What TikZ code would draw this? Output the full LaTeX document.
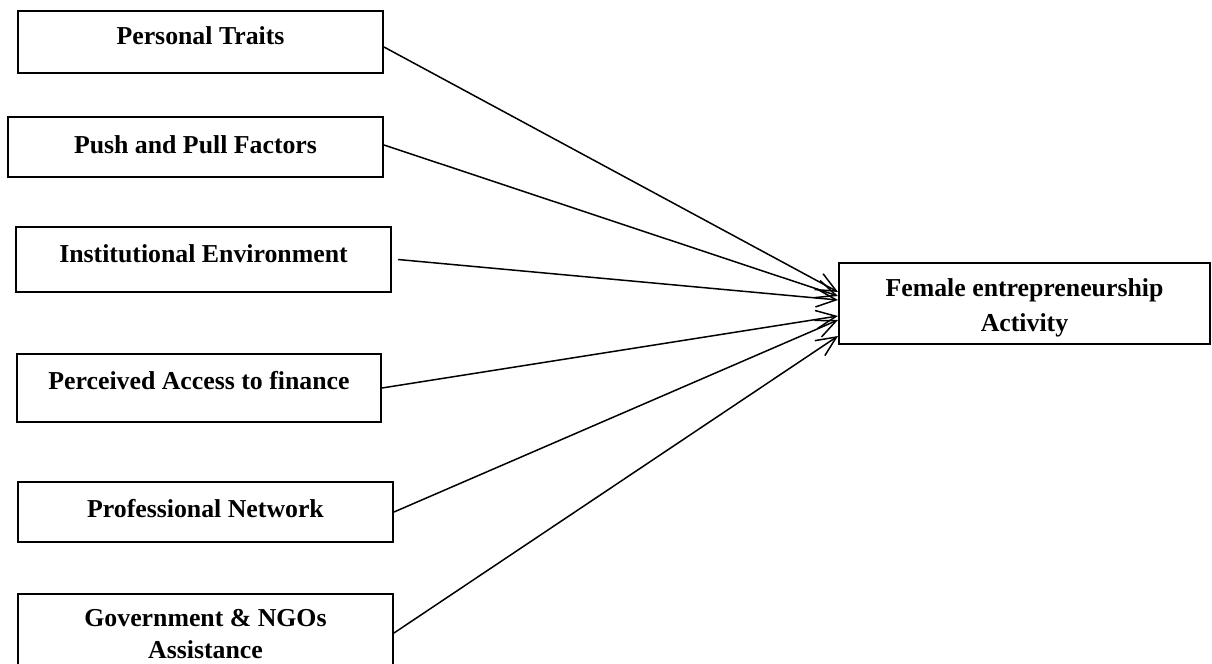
\documentclass[tikz,border=0pt]{standalone}
\usepackage{fontspec}
\setmainfont{Liberation Serif}
\usetikzlibrary{arrows.meta}

\begin{document}
\begin{tikzpicture}[x=0.5pt, y=-0.5pt, >={Straight Barb[length=10pt,width=9pt]},
    factor/.style={draw, line width=1pt, inner sep=0pt, align=center,
        minimum width=187.5pt, font=\bfseries\fontsize{12.9}{16}\selectfont},
    link/.style={->, line width=0.75pt}]
    \useasboundingbox (0,0) rectangle (1212,664);

    % Nodes {factors on the left, outcome on the right}
    \node [factor, minimum width=182.5pt, text height=17pt, text depth=14pt]   (pt)  at (200.5,42)  {Personal Traits};
    \node [factor, text height=18pt, text depth=12pt]     (ppf) at (195.5,147) {Push and Pull Factors};
    \node [factor, text height=17.5pt, text depth=15pt]   (ie)  at (203.5,259.5) {Institutional Environment};
    \node [factor, minimum width=182pt, text height=17.5pt, text depth=16.5pt] (paf) at (199,388) {Perceived Access to finance};
    \node [factor, text height=17.5pt, text depth=12.5pt] (pn)  at (205.5,512) {Professional Network};
    \node [factor, text height=32pt, text depth=7pt]      (gov) at (205.5,633) {Government \& NGOs\\Assistance};
    \node [factor, minimum width=185.5pt, text height=34pt, text depth=6.5pt,
        font=\bfseries\fontsize{12.9}{17.5}\selectfont]   (fea) at (1024.5,303.5) {Female entrepreneurship\\Activity};

    % Paths
    \path [link] ([yshift=-2.5pt]pt.east)  edge ([yshift=5.75pt]fea.west);
    \path [link] ([yshift=1pt]ppf.east)    edge ([yshift=3.75pt]fea.west);
    \path [link] ([xshift=3pt]ie.east)     edge ([yshift=1.75pt]fea.west);
    \path [link] (paf.east)                edge ([yshift=-6.25pt]fea.west);
    \path [link] (pn.east)                 edge ([yshift=-8.25pt]fea.west);
    \path [link] (gov.east)                edge ([yshift=-16.25pt]fea.west);
\end{tikzpicture}
\end{document}
